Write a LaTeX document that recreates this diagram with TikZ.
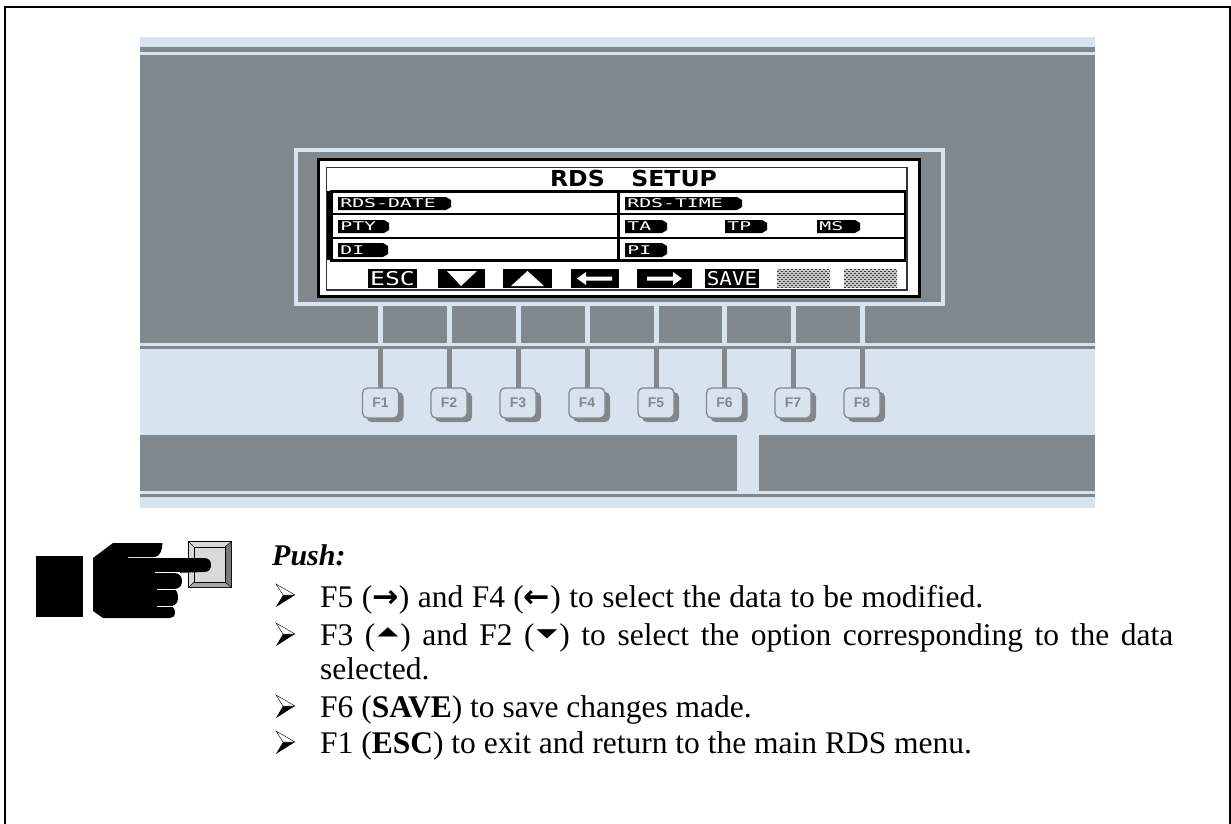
\documentclass[tikz,border=0pt]{standalone}
\usepackage{fontspec}
\setmainfont{Liberation Serif}
\newfontfamily\lcdfont{DejaVu Sans Mono}
\newfontfamily\ttlfont{DejaVu Sans}
\newfontfamily\keyfont{Liberation Sans}
\newcommand{\rar}{{\ttlfont\bfseries →}}
\newcommand{\lar}{{\ttlfont\bfseries ←}}
\newcommand{\uar}{\raisebox{10pt}{\scalebox{1}[0.45]{\ttlfont\fontsize{27}{27}\selectfont ▲}}}
\newcommand{\dar}{\raisebox{8pt}{\scalebox{1}[0.45]{\ttlfont\fontsize{27}{27}\selectfont ▼}}}
\definecolor{bandgrey}{HTML}{81888D}
\definecolor{bandlight}{HTML}{D7E4EF}
\tikzset{
  tag/.style={fill=black,draw=none},
  softkey/.style={fill=black,draw=none},
  softlabel/.style={inner sep=0pt,text=white,font=\lcdfont\fontsize{19}{19}\selectfont},
  taglabel/.style={inner sep=0pt,anchor=west,text=white,xscale=1.65,font=\lcdfont\fontsize{12}{12}\selectfont},
  fkey/.style={draw=bandgrey,line width=1.3pt,fill=bandlight,rounded corners=5pt,minimum width=36pt,minimum height=30pt,inner sep=0pt,text=bandgrey,font=\keyfont\bfseries\fontsize{14}{14}\selectfont},
  keyshadow/.style={fill=bandgrey,rounded corners=5pt},
  body/.style={inner sep=0pt,anchor=base west,font=\fontsize{31.5}{31.5}\selectfont},
}
\newcommand{\bul}[1]{%
  \begin{scope}[shift={(0,#1)}]
    \fill[black] (295,-11) -- (283,-11) -- (276,1) -- cycle;
    \draw[black,line width=0.4pt,fill=white] (295,-11) -- (276,-22) -- (283,-11) -- cycle;
  \end{scope}}
\begin{document}
\begin{tikzpicture}[x=1pt,y=-1pt,line cap=butt]
\useasboundingbox (0,0) rectangle (1231,824);
% page frame
\draw[black,line width=2pt] (5,824) -- (5,7) -- (1230,7) -- (1230,824);
% panel
\fill[bandlight] (140,37) rectangle (1095,508);
\fill[bandgrey] (140,47) rectangle (1095,52);
\fill[bandgrey] (140,55) rectangle (1095,343);
\fill[bandgrey] (140,346) rectangle (1095,349);
\fill[bandgrey] (140,435) rectangle (737,491);
\fill[bandgrey] (759,435) rectangle (1095,491);
\fill[bandgrey] (140,494) rectangle (1095,497);
% display surround
\draw[bandlight,line width=4pt] (296,150) rectangle (943,304);
% key stems
\foreach \k/\x in {1/380.5,2/449,3/518,4/587,5/656,6/724.5,7/793,8/862}{
  \fill[bandlight] (\x-2.5,306) rectangle (\x+2.5,343);
  \fill[bandgrey] (\x-2.5,349) rectangle (\x+2.5,389);
  \fill[keyshadow] (\x-14,392) rectangle (\x+23,422);
  \node[fkey] (F\k) at (\x,403) {F\k};
}
% LCD
\draw[black,line width=3pt,fill=white] (318,159) rectangle (919,296);
\draw[black!80,line width=1.4pt] (326.5,167.5) rectangle (907,290);
\draw[black,line width=3pt] (330,191) -- (906,191);
\draw[black,line width=3pt] (330,260) -- (906,260);
\draw[black,line width=6pt] (330,191) -- (330,260);
\draw[black,line width=2.2pt] (905,191) -- (905,260);
\draw[black,line width=2.2pt] (618.5,191) -- (618.5,260);
\draw[black,line width=1.5pt] (330,214) -- (906,214);
\draw[black,line width=1.5pt] (330,238) -- (906,238);
\node[inner sep=0pt,font=\ttlfont\bfseries\fontsize{22}{22}\selectfont,xscale=1.07] (title) at (633.5,178) {RDS\hspace{25pt}SETUP};
% tags
\newcommand{\lcdtag}[6]{% name, x0, x1, y0, y1, text
  \fill[tag] (#2,#4) -- (#3-5,#4) -- (#3,#4+3) -- (#3,#5-3) -- (#3-5,#5) -- (#2,#5) -- cycle;
  \node[taglabel] (#1) at (#2+2,{(#4+#5)/2}) {#6};}
\lcdtag{tagA}{338}{451}{197}{210}{RDS-DATE}
\lcdtag{tagB}{338}{389}{220}{233}{PTY}
\lcdtag{tagC}{338}{388}{243}{257}{DI}
\lcdtag{tagD}{625}{742}{197}{210}{RDS-TIME}
\lcdtag{tagE}{625}{667}{220}{233}{TA}
\lcdtag{tagF}{725}{767}{220}{233}{TP}
\lcdtag{tagG}{817}{860}{220}{233}{MS}
\lcdtag{tagH}{625}{667}{243}{257}{PI}
% soft keys
\fill[softkey] (368,269) rectangle (417,288);
\node[softlabel,xscale=1.3] (esc) at (392.5,278.5) {ESC};
\fill[softkey] (438,269) rectangle (485,288);
\fill[white] (447,271) -- (477,271) -- (461,286) -- cycle;
\fill[softkey] (503,269) rectangle (552,288);
\fill[white] (511,286) -- (544,286) -- (527.5,271) -- cycle;
\fill[softkey] (571,269) rectangle (619,288);
\fill[white] (577,278.5) -- (586,272) -- (586,276.5) -- (612,276.5) -- (612,280.5) -- (586,280.5) -- (586,285) -- cycle;
\fill[softkey] (637,269) rectangle (692,288);
\fill[white] (682,278.5) -- (673,272) -- (673,276.5) -- (647,276.5) -- (647,280.5) -- (673,280.5) -- (673,285) -- cycle;
\fill[softkey] (705,269) rectangle (759,288);
\node[softlabel,xscale=1.1] (save) at (732,278.5) {SAVE};
% hatched soft keys
\foreach \xa in {777,844}{
  \fill[gray!45] (\xa,269) rectangle (\xa+53,288);
  \foreach \yy in {270,272,...,288}{
    \pgfmathsetmacro{\ph}{mod(\yy,4)==0 ? 0 : 2}
    \draw[black!75,line width=1pt,dash pattern=on 2pt off 2pt,dash phase=\ph pt] (\xa,\yy-0.5) -- (\xa+53,\yy-0.5);
  }
}
% hand
\fill[black] (36,556) rectangle (83,617);
\filldraw[draw=black,line width=1pt,fill=gray!45] (188.5,541.5) rectangle (231.5,587.5);
\fill[gray!30] (189,542) -- (231,542) -- (225,547) -- (194,547) -- (194,582) -- (189,587) -- cycle;
\fill[gray!95!black] (231,542) -- (231,587) -- (225,582) -- (225,547) -- cycle;
\fill[gray!70] (189,587) -- (231,587) -- (225,582) -- (194,582) -- cycle;
\draw[black,line width=0.8pt,fill=gray!30] (194,547) rectangle (225,582);
\draw[black,line width=0.5pt] (188.5,541.5) -- (194,547) (231.5,541.5) -- (225,547) (188.5,587.5) -- (194,582) (231.5,587.5) -- (225,582);
\fill[black] (93,558) -- (113,543) -- (162.5,543)
  .. controls (162.5,550) and (160,556) .. (155,557) -- (128,557) -- (128,558) -- (204,558)
  .. controls (209,558) and (211,561) .. (211,565) .. controls (211,569) and (209,572) .. (204,572)
  -- (174,573) .. controls (180,573) and (182,577) .. (182,581) .. controls (182,585) and (180,589) .. (174,589)
  .. controls (177,590) and (178,594) .. (178,598) .. controls (178,602) and (176,605) .. (172,606)
  .. controls (174,608) and (175,610) .. (175,612) .. controls (175,616) and (173,618) .. (170,618)
  -- (103,618) -- (93,611) -- cycle;
\draw[white,line width=1pt] (155,572.5) -- (180,572.5) (157,589) -- (178,589) (157,606) -- (176,606);
% text
\node[body,font=\fontsize{30}{30}\selectfont\bfseries\itshape] (push) at (272,565) {Push:};
\bul{606}
\bul{645}
\bul{717}
\bul{753}
\node[body] (l1) at (320,607) {\makebox[663pt][s]{F5 (\rar) and F4 (\lar) to select the data to be modified.}};
\node[body] (l2) at (320,645) {\makebox[853pt][s]{F3 (\hspace{2pt}\uar\hspace{2pt}) and F2 (\hspace{2pt}\dar\hspace{2pt}) to select the option corresponding to the data}};
\node[body] (l3) at (320,679) {selected.};
\node[body] (l4) at (320,717) {F6 (\textbf{SAVE}) to save changes made.};
\node[body] (l5) at (320,753) {F1 (\textbf{ESC}) to exit and return to the main RDS menu.};
\end{tikzpicture}
\end{document}
